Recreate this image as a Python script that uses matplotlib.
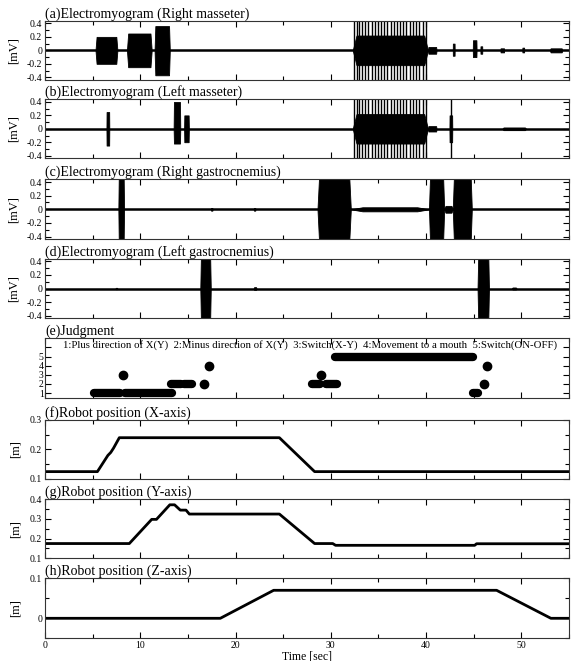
import matplotlib
matplotlib.use("Agg")
import matplotlib.pyplot as plt
from matplotlib.ticker import MultipleLocator, FuncFormatter

plt.rcParams['font.family'] = ['Liberation Serif', 'DejaVu Serif']
plt.rcParams['axes.unicode_minus'] = False

# 时间范围
t_max = 55

# 肌电信号: 每个元素为 (开始时间, 结束时间, 上包络, 下包络)
emg_a_bursts = [(5.3, 7.6, 0.2, -0.2), (8.6, 11.2, 0.25, -0.25), (11.5, 13.1, 0.36, -0.37),
                (32.3, 40.2, 0.22, -0.22), (40.2, 41.1, 0.05, -0.05), (42.8, 43.0, 0.1, -0.08),
                (44.9, 45.3, 0.15, -0.1), (45.7, 45.9, 0.06, -0.05), (47.8, 48.2, 0.03, -0.03),
                (50.1, 50.3, 0.04, -0.03), (53.0, 54.3, 0.03, -0.03)]
emg_a_spikes = [32.46, 32.71, 32.98, 33.26, 33.61, 33.93, 34.28, 34.59, 34.91, 35.22, 35.57, 35.92,
                36.27, 36.59, 36.94, 37.25, 37.60, 37.92, 38.27, 38.62, 38.96, 39.28, 39.63, 39.98]

emg_b_bursts = [(6.45, 6.75, 0.25, -0.25), (13.5, 14.2, 0.4, -0.22), (14.6, 15.1, 0.2, -0.2),
                (32.3, 40.2, 0.22, -0.22), (40.2, 41.1, 0.04, -0.04), (42.45, 42.75, 0.2, -0.2),
                (48.0, 50.5, 0.02, -0.02)]
emg_b_spikes = [32.46, 32.71, 32.98, 33.26, 33.61, 33.93, 34.28, 34.59, 34.91, 35.22, 35.57, 35.92,
                36.27, 36.59, 36.94, 37.25, 37.60, 37.92, 38.27, 38.62, 38.96, 39.28, 39.63, 39.98,
                42.6]

emg_c_bursts = [(7.7, 8.3, 1.0, -1.0), (17.4, 17.6, 0.02, -0.02), (21.9, 22.1, 0.02, -0.02),
                (28.6, 32.1, 1.5, -1.5), (32.1, 40.3, 0.03, -0.03), (40.3, 41.9, 1.0, -1.0),
                (41.9, 42.8, 0.05, -0.05), (42.8, 44.8, 1.2, -1.2)]
emg_c_spikes = []

emg_d_bursts = [(7.4, 7.6, 0.01, -0.01), (16.3, 17.4, 1.2, -1.2), (21.9, 22.2, 0.02, -0.02),
                (45.4, 46.6, 1.2, -1.2), (49.0, 49.5, 0.015, -0.015)]
emg_d_spikes = []

emg_titles = ["(a)Electromyogram (Right masseter)", "(b)Electromyogram (Left masseter)",
              "(c)Electromyogram (Right gastrocnemius)", "(d)Electromyogram (Left gastrocnemius)"]

# 判定结果: 连续段 (开始, 结束, 类别) 与 单点 (时间, 类别)
judge_runs = [(5.1, 7.9, 1), (8.4, 13.3, 1), (13.2, 14.3, 2), (14.6, 15.4, 2),
              (28.0, 28.85, 2), (29.5, 30.7, 2), (30.4, 44.95, 5), (44.9, 45.5, 1)]
judge_points = [(8.2, 3), (16.7, 2), (17.2, 4), (29.0, 3), (46.1, 2), (46.4, 4)]
judge_text = ("1:Plus direction of X(Y)  2:Minus direction of X(Y)  3:Switch(X-Y)  "
              "4:Movement to a mouth  5:Switch(ON-OFF)")

# 机器人位置
robot_x_t = [0, 5.5, 6.6, 6.9, 7.2, 7.8, 24.6, 28.3, 55]
robot_x_v = [0.125, 0.125, 0.18, 0.19, 0.205, 0.24, 0.24, 0.125, 0.125]
robot_y_t = [0, 8.85, 11.2, 11.7, 13.1, 13.6, 14.2, 14.8, 15.15, 24.6, 28.3, 30.2, 30.5, 45.1, 45.3, 55]
robot_y_v = [0.175, 0.175, 0.298, 0.298, 0.372, 0.372, 0.345, 0.345, 0.325, 0.325,
             0.175, 0.175, 0.166, 0.166, 0.174, 0.174]
robot_z_t = [0, 18.4, 24.0, 47.4, 53.1, 55]
robot_z_v = [0, 0, 0.07, 0.07, 0, 0]

# 各子图在画面中的像素位置 (上边, 下边)
panel_px = [(20.7, 80), (99.3, 158.3), (179.3, 239.3), (258.7, 318.3), (338.3, 397.7),
            (420, 479), (499.3, 558.3), (578.3, 638.3)]

W, H = 572, 661
fig = plt.figure(figsize=(W / 100, H / 100), dpi=100)

fmt = FuncFormatter(lambda v, p: '%g' % round(v, 3))


def make_axes(i):
    top, bottom = panel_px[i]
    ax = fig.add_axes([45 / W, 1 - bottom / H, 524 / W, (bottom - top) / H])
    ax.set_xlim(0, t_max)
    ax.xaxis.set_major_locator(MultipleLocator(10))
    ax.xaxis.set_minor_locator(MultipleLocator(5))
    ax.tick_params(which='both', direction='in', top=True, right=True, labelsize=7, pad=2)
    ax.tick_params(which='major', length=4, width=0.8)
    ax.tick_params(which='minor', length=3, width=0.8)
    ax.yaxis.set_major_formatter(fmt)
    if i < 7:
        ax.tick_params(labelbottom=False)
    for s in ax.spines.values():
        s.set_linewidth(0.8)
        s.set_color('#333333')
    return ax


def draw_bursts(ax, bursts, ramp):
    for start, end, up, low in bursts:
        r = (end - start) * ramp
        ax.fill_between([start, start + r, end - r, end], [0, up, up, 0], [0, low, low, 0],
                        color='k', lw=0.6)


emg_sets = [(emg_a_bursts, emg_a_spikes, 0.05), (emg_b_bursts, emg_b_spikes, 0.05),
            (emg_c_bursts, emg_c_spikes, 0.15), (emg_d_bursts, emg_d_spikes, 0.15)]
for i, (bursts, spikes, ramp) in enumerate(emg_sets):
    ax = make_axes(i)
    ax.set_ylim(-0.44, 0.44)
    ax.yaxis.set_major_locator(MultipleLocator(0.2))
    ax.yaxis.set_minor_locator(MultipleLocator(0.1))
    ax.axhline(0, color='k', lw=1.8)
    draw_bursts(ax, bursts, ramp)
    if spikes:
        ax.vlines(spikes, -0.5, 0.5, color='k', lw=1.0)
    ax.set_title(emg_titles[i], loc='left', fontsize=10, pad=1)
    ax.set_ylabel('[mV]', fontsize=9, labelpad=0)
    ax.yaxis.set_label_coords(-0.048, 0.5)

# 判定结果
ax = make_axes(4)
ax.set_ylim(0.5, 7)
ax.set_yticks([1, 2, 3, 4, 5, 6])
ax.set_yticklabels(['1', '2', '3', '4', '5', ''])
ax.tick_params(axis='y', labelsize=7, pad=1)
for start, end, c in judge_runs:
    ax.plot([start, end], [c, c], color='k', lw=6, solid_capstyle='round')
ax.plot([p[0] for p in judge_points], [p[1] for p in judge_points], 'o', color='k', ms=6)
ax.text(1.9, 6.3, judge_text, fontsize=7.75, va='center', ha='left')
ax.set_title('(e)Judgment', loc='left', fontsize=10, pad=1)

# 机器人位置
robot_sets = [(robot_x_t, robot_x_v, (0.1, 0.3), '(f)Robot position (X-axis)'),
              (robot_y_t, robot_y_v, (0.1, 0.4), '(g)Robot position (Y-axis)'),
              (robot_z_t, robot_z_v, (-0.05, 0.1), '(h)Robot position (Z-axis)')]
for j, (tt, vv, lim, title) in enumerate(robot_sets):
    ax = make_axes(5 + j)
    ax.plot(tt, vv, color='k', lw=2)
    ax.set_ylim(*lim)
    ax.yaxis.set_major_locator(MultipleLocator(0.1))
    ax.yaxis.set_minor_locator(MultipleLocator(0.05))
    ax.set_title(title, loc='left', fontsize=10, pad=1)
    ax.set_ylabel('[m]', fontsize=9, labelpad=0)
    ax.yaxis.set_label_coords(-0.044, 0.5)

ax.set_xlabel('Time [sec]', fontsize=8.5, labelpad=0)

fig.savefig('out.png', dpi=100)
